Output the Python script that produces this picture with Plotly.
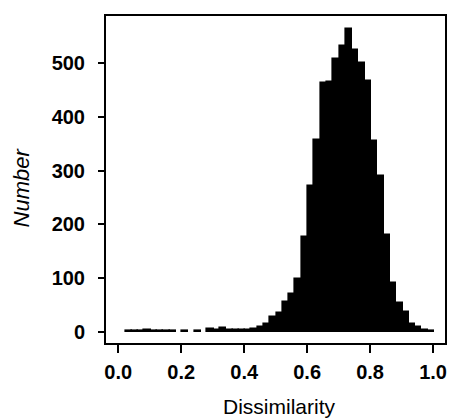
import plotly.graph_objects as go

# Histogram of dissimilarity values (bin width 0.02)
bin_width = 0.02
bin_start = 0.003
counts = [
    0, 1, 1, 1, 3, 1, 1, 1, 1, 0,
    1, 0, 1, 0, 5, 3, 7, 4, 4, 3,
    3, 6, 9, 15, 28, 35, 55, 70, 99, 176,
    272, 358, 463, 465, 508, 532, 564, 524, 500, 467,
    356, 290, 180, 90, 54, 37, 15, 9, 3, 1,
]
bin_centers = [bin_start + bin_width * (k + 0.5) for k in range(len(counts))]

x_ticks = [0.0, 0.2, 0.4, 0.6, 0.8, 1.0]
x_tick_labels = ["0.0", "0.2", "0.4", "0.6", "0.8", "1.0"]
y_ticks = [0, 100, 200, 300, 400, 500]
y_tick_labels = ["0", "100", "200", "300", "400", "500"]

# empty bins are left undrawn
bar_heights = [c if c > 0 else None for c in counts]

fig = go.Figure(
    go.Bar(
        x=bin_centers,
        y=bar_heights,
        width=bin_width,
        marker=dict(color="black", line=dict(color="black", width=1.6)),
    )
)

fig.update_layout(
    width=452,
    height=418,
    margin=dict(l=106, r=5, t=16, b=75),
    paper_bgcolor="white",
    plot_bgcolor="white",
    showlegend=False,
    bargap=0,
    font=dict(family="Liberation Sans, Arial, sans-serif", color="black"),
    annotations=[
        dict(
            text="Dissimilarity",
            xref="paper", yref="paper",
            x=0.51, y=-0.195,
            xanchor="center", yanchor="middle",
            showarrow=False,
            font=dict(size=21),
        ),
        dict(
            text="Number",
            xref="paper", yref="paper",
            x=-0.2507, y=0.4756,
            xanchor="center", yanchor="middle",
            textangle=-90,
            showarrow=False,
            font=dict(size=22, style="italic"),
        ),
    ],
)

fig.update_xaxes(
    range=[-0.039, 1.038],
    tickvals=x_ticks,
    ticktext=x_tick_labels,
    ticks="outside",
    ticklen=8,
    tickwidth=2,
    tickcolor="black",
    showline=True,
    linewidth=2,
    linecolor="black",
    mirror=True,
    showgrid=False,
    zeroline=False,
    tickfont=dict(size=20, weight="bold"),
    ticklabelstandoff=2,
)

fig.update_yaxes(
    range=[-21, 588],
    tickvals=y_ticks,
    ticktext=y_tick_labels,
    ticks="outside",
    ticklen=6,
    tickwidth=2,
    tickcolor="black",
    showline=True,
    linewidth=2,
    linecolor="black",
    mirror=True,
    showgrid=False,
    zeroline=False,
    tickfont=dict(size=20, weight="bold"),
    ticklabelstandoff=9,
)

fig.write_html("out.html")
